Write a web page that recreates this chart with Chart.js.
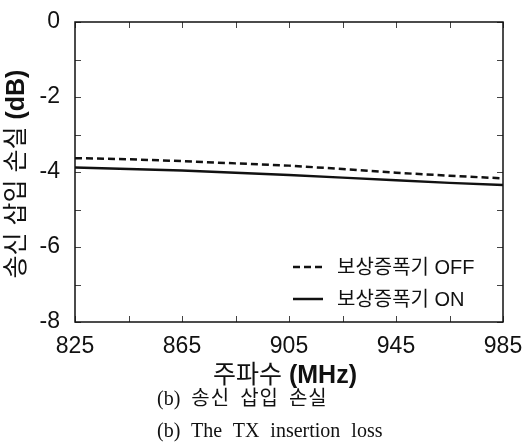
<!DOCTYPE html>
<html><head><meta charset="utf-8">
<script src="https://cdn.jsdelivr.net/npm/chart.js@4"></script>
<style>
html,body{margin:0;padding:0;background:#fff;}
#wrap{position:relative;width:526px;height:448px;overflow:hidden;}
#box{position:absolute;left:0;top:0;width:526px;height:390px;}
.cap{position:absolute;left:157px;font-family:"Liberation Serif","Noto Sans CJK KR",serif;font-size:20px;line-height:24px;color:#111;word-spacing:6px;white-space:nowrap;}
.ko{font-size:20px;letter-spacing:1px;word-spacing:4px;}
</style></head>
<body><div id="wrap"><div id="box"><canvas id="c"></canvas></div>
<div class="cap" style="top:386px">(b) <span class="ko">송신 삽입 손실</span></div>
<div class="cap" style="top:418px">(b) The TX insertion loss</div>
</div>
<script>
const freqMHz = [825, 845, 865, 885, 905, 925, 945, 965, 985];
const lossOff = [-3.63, -3.66, -3.71, -3.77, -3.83, -3.92, -4.02, -4.10, -4.17];
const lossOn  = [-3.88, -3.92, -3.96, -4.02, -4.08, -4.15, -4.22, -4.29, -4.35];
const seriesLabels = ['보상증폭기 OFF', '보상증폭기 ON'];
const xTitleKo = '주파수 ', xTitleUnit = '(MHz)';
const yTitleKo = '송신 삽입 손실 ', yTitleUnit = '(dB)';

const SANS = '"Liberation Sans", "Noto Sans CJK KR", Arial, sans-serif';

const framePlugin = {
  id: 'frame',
  afterDatasetsDraw(chart) {
    const ctx = chart.ctx, a = chart.chartArea;
    const xs = chart.scales.x, ys = chart.scales.y;
    ctx.save();
    ctx.strokeStyle = '#444'; ctx.lineWidth = 1;
    xs.ticks.forEach(t => {
      const px = Math.round(xs.getPixelForValue(t.value)) + 0.5;
      ctx.beginPath();
      ctx.moveTo(px, a.bottom); ctx.lineTo(px, a.bottom - 6);
      ctx.moveTo(px, a.top); ctx.lineTo(px, a.top + 6);
      ctx.stroke();
    });
    ys.ticks.forEach(t => {
      const py = Math.round(ys.getPixelForValue(t.value)) + 0.5;
      ctx.beginPath();
      ctx.moveTo(a.left, py); ctx.lineTo(a.left + 6, py);
      ctx.moveTo(a.right, py); ctx.lineTo(a.right - 6, py);
      ctx.stroke();
    });
    ctx.strokeStyle = '#111'; ctx.lineWidth = 1.5;
    ctx.strokeRect(a.left, a.top, a.right - a.left, a.bottom - a.top);

    // legend
    ctx.font = '20px ' + SANS;
    ctx.fillStyle = '#111';
    ctx.textBaseline = 'middle';
    ctx.textAlign = 'left';
    const rows = [267, 299];
    chart.data.datasets.forEach((ds, i) => {
      ctx.beginPath();
      ctx.strokeStyle = ds.borderColor; ctx.lineWidth = ds.borderWidth;
      ctx.setLineDash(ds.borderDash || []);
      ctx.moveTo(293, rows[i]); ctx.lineTo(323, rows[i]);
      ctx.stroke();
      ctx.setLineDash([]);
      ctx.fillText(ds.label, 337, rows[i] + 1);
    });

    function mixed(x, y, rot, p1, p2) {
      ctx.save();
      ctx.translate(x, y); ctx.rotate(rot);
      ctx.textBaseline = 'middle'; ctx.textAlign = 'left';
      const f1 = '25px ' + SANS, f2 = 'bold 25px ' + SANS;
      ctx.font = f1; const w1 = ctx.measureText(p1).width;
      ctx.font = f2; const w2 = ctx.measureText(p2).width;
      const x0 = -(w1 + w2) / 2;
      ctx.font = f1; ctx.fillText(p1, x0, 0);
      ctx.font = f2; ctx.fillText(p2, x0 + w1, 0);
      ctx.restore();
    }
    mixed((a.left + a.right) / 2 - 4, 376, 0, xTitleKo, xTitleUnit);
    mixed(17, (a.top + a.bottom) / 2 + 2, -Math.PI / 2, yTitleKo, yTitleUnit);
    ctx.restore();
  }
};

new Chart(document.getElementById('c'), {
  type: 'line',
  data: {
    datasets: [
      { label: seriesLabels[0], data: freqMHz.map((f, i) => ({ x: f, y: lossOff[i] })),
        borderColor: '#111', borderWidth: 2.5, borderDash: [7, 4], pointRadius: 0, tension: 0 },
      { label: seriesLabels[1], data: freqMHz.map((f, i) => ({ x: f, y: lossOn[i] })),
        borderColor: '#111', borderWidth: 2.5, pointRadius: 0, tension: 0 }
    ]
  },
  options: {
    responsive: true, maintainAspectRatio: false, animation: false,
    layout: { padding: { top: 22, right: 23, left: 0, bottom: 0 } },
    plugins: { legend: { display: false }, tooltip: { enabled: false } },
    scales: {
      x: {
        type: 'linear', min: 825, max: 985,
        grid: { display: false }, border: { display: false },
        afterFit(s) { s.height = 68; },
        ticks: {
          stepSize: 20, autoSkip: false, maxRotation: 0, padding: 3,
          color: '#111', font: { family: SANS, size: 23 },
          callback: v => ((v - 825) % 40 === 0 ? String(v) : '')
        }
      },
      y: {
        min: -8, max: 0,
        grid: { display: false }, border: { display: false },
        afterFit(s) { s.width = 75; },
        ticks: {
          stepSize: 1, autoSkip: false, padding: 7,
          color: '#111', font: { family: SANS, size: 23 },
          callback: v => (v % 2 === 0 ? String(v) : '')
        }
      }
    }
  },
  plugins: [framePlugin]
});
</script>
</body></html>
